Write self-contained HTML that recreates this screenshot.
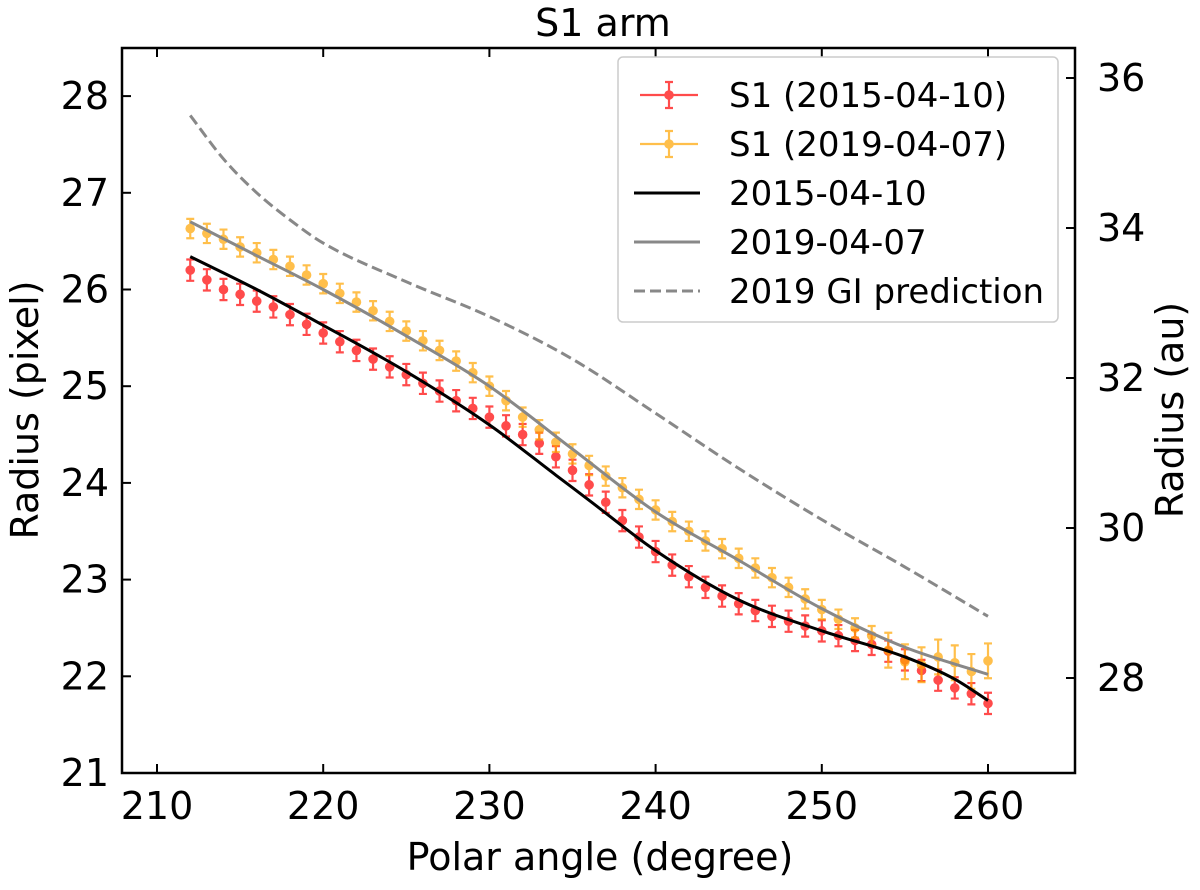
<!DOCTYPE html>
<html><head><meta charset="utf-8"><style>
body{margin:0;background:#fff}
svg{display:block;font-family:"DejaVu Sans","Liberation Sans",sans-serif}
</style></head><body>
<svg id="chart" width="1200" height="890"></svg>
<script>
const angles=[];for(let a=212;a<=260;a++)angles.push(a);
const red2015=[26.2,26.1,26.0,25.95,25.88,25.82,25.74,25.64,25.55,25.46,25.37,25.28,25.2,25.12,25.03,24.95,24.85,24.77,24.68,24.59,24.5,24.41,24.27,24.13,23.98,23.8,23.61,23.44,23.29,23.15,23.03,22.92,22.83,22.75,22.68,22.62,22.57,22.52,22.47,22.42,22.37,22.33,22.26,22.17,22.06,21.96,21.88,21.82,21.72];
const orange2019=[26.63,26.58,26.52,26.44,26.38,26.31,26.24,26.15,26.06,25.96,25.87,25.78,25.67,25.57,25.47,25.37,25.26,25.14,25.0,24.85,24.68,24.55,24.42,24.3,24.18,24.07,23.95,23.83,23.72,23.6,23.5,23.4,23.32,23.22,23.12,23.02,22.92,22.8,22.69,22.59,22.5,22.42,22.27,22.15,22.12,22.2,22.14,22.05,22.16];
const redErr=angles.map(a=>0.11);
const orangeErr=angles.map(a=>a>=254?0.18:0.1);
const fitX=[212,216,220,225,230,234,236,240,245,250,255,258,260];
const fit2015=[26.34,26.0,25.63,25.15,24.6,24.08,23.82,23.3,22.79,22.47,22.2,21.97,21.75];
const fit2019X=[212,216,220,225,230,235,240,245,250,255,260];
const fit2019=[26.7,26.35,26.0,25.52,25.0,24.35,23.7,23.2,22.7,22.3,22.02];
const giX=[212,214,216,218,220,225,230,235,240,245,250,255,260];
const gi2019=[27.8,27.35,27.0,26.72,26.48,26.08,25.72,25.28,24.72,24.15,23.62,23.13,22.62];
const xTicks=[210,220,230,240,250,260];
const yTicks=[21,22,23,24,25,26,27,28];
const auTicks=[28,30,32,34,36];

const NS="http://www.w3.org/2000/svg",svg=document.getElementById('chart');
const L=122,R=1075,T=48,B=773;
const X=v=>157+(v-210)*(988-157)/50;
const Y=v=>773-(v-21)*96.7;
const YA=v=>678-(v-28)*75;
function el(t,a,p){const e=document.createElementNS(NS,t);for(const k in a)e.setAttribute(k,a[k]);(p||svg).appendChild(e);return e;}
function smooth(xs,ys){
  const n=xs.length,d=[],m=[];
  for(let i=0;i<n-1;i++)d.push((ys[i+1]-ys[i])/(xs[i+1]-xs[i]));
  m[0]=d[0];m[n-1]=d[n-2];
  for(let i=1;i<n-1;i++)m[i]=(d[i-1]*d[i]<=0)?0:(d[i-1]+d[i])/2;
  let s='M'+X(xs[0])+','+Y(ys[0]);
  for(let i=0;i<n-1;i++){const h=xs[i+1]-xs[i];
    s+=`C${X(xs[i]+h/3)},${Y(ys[i]+m[i]*h/3)} ${X(xs[i+1]-h/3)},${Y(ys[i+1]-m[i+1]*h/3)} ${X(xs[i+1])},${Y(ys[i+1])}`;}
  return s;}

const FS=38;
let t=el('text',{x:603,y:36,'font-size':FS,'text-anchor':'middle'});t.textContent='S1 arm';


let g=el('g',{opacity:0.7});

angles.forEach((a,i)=>{const x=X(a),y1=Y(red2015[i]-redErr[i]),y2=Y(red2015[i]+redErr[i]);
el('path',{d:`M${x},${y1}V${y2}M${x-4},${y1}h8M${x-4},${y2}h8`,stroke:'red','stroke-width':2.2,fill:'none'},g);
const c=el('circle',{cx:x,cy:Y(red2015[i]),r:4.8,fill:'red'},g);
});
let g2=el('g',{opacity:0.7});

angles.forEach((a,i)=>{const x=X(a),y1=Y(orange2019[i]-orangeErr[i]),y2=Y(orange2019[i]+orangeErr[i]);
el('path',{d:`M${x},${y1}V${y2}M${x-4},${y1}h8M${x-4},${y2}h8`,stroke:'orange','stroke-width':2.2,fill:'none'},g2);
const c=el('circle',{cx:x,cy:Y(orange2019[i]),r:4.8,fill:'orange'},g2);
});
let p=el('path',{d:smooth(fitX,fit2015),stroke:'#000','stroke-width':3,fill:'none'});

p=el('path',{d:smooth(fit2019X,fit2019),stroke:'#888','stroke-width':3,fill:'none'});

p=el('path',{d:smooth(giX,gi2019),stroke:'#888','stroke-width':3,fill:'none','stroke-dasharray':'11,5'});


let f=el('rect',{x:L,y:T,width:R-L,height:B-T,fill:'none',stroke:'#000','stroke-width':2.5});

xTicks.forEach(v=>{el('line',{x1:X(v),x2:X(v),y1:B,y2:B-9,stroke:'#000','stroke-width':2});el('line',{x1:X(v),x2:X(v),y1:T,y2:T+9,stroke:'#000','stroke-width':2});
const s=el('text',{x:X(v),y:B+46,'font-size':FS,'text-anchor':'middle'});s.textContent=v;
});
yTicks.forEach(v=>{el('line',{x1:L,x2:L+9,y1:Y(v),y2:Y(v),stroke:'#000','stroke-width':2});
const s=el('text',{x:L-13,y:Y(v)+13,'font-size':FS,'text-anchor':'end'});s.textContent=v;
});
auTicks.forEach(v=>{el('line',{x1:R,x2:R-9,y1:YA(v),y2:YA(v),stroke:'#000','stroke-width':2});
const s=el('text',{x:R+22,y:YA(v)+13,'font-size':FS,'text-anchor':'start'});s.textContent=v;
});
t=el('text',{x:600,y:870,'font-size':FS,'text-anchor':'middle'});t.textContent='Polar angle (degree)';

t=el('text',{x:38,y:410,'font-size':FS,'text-anchor':'middle',transform:'rotate(-90 38 410)'});t.textContent='Radius (pixel)';

t=el('text',{x:1183,y:410,'font-size':FS,'text-anchor':'middle',transform:'rotate(-90 1183 410)'});t.textContent='Radius (au)';


let lg=el('g',{});
el('rect',{x:618,y:57,width:440,height:265,rx:5,fill:'#fff','fill-opacity':0.85,stroke:'#ccc','stroke-width':1.5},lg);
const items=[['S1 (2015-04-10)','red','err'],['S1 (2019-04-07)','orange','err'],['2015-04-10','#000','line'],['2019-04-07','#888','line'],['2019 GI prediction','#888','dash']];
items.forEach((it,i)=>{const y=95+i*49;const gi=el('g',{},lg);

if(it[2]==='err'){const gg=el('g',{opacity:0.7},gi);el('path',{d:`M640,${y}h58M669,${y-13}v26M665,${y-13}h8M665,${y+13}h8`,stroke:it[1],'stroke-width':2.2,fill:'none'},gg);el('circle',{cx:669,cy:y,r:4.8,fill:it[1]},gg);}
else el('line',{x1:634,x2:700,y1:y,y2:y,stroke:it[1],'stroke-width':3,'stroke-dasharray':it[2]==='dash'?'11,5':'none'},gi);
const s=el('text',{x:729,y:y+12,'font-size':34},gi);s.textContent=it[0];});
</script>
</body></html>
